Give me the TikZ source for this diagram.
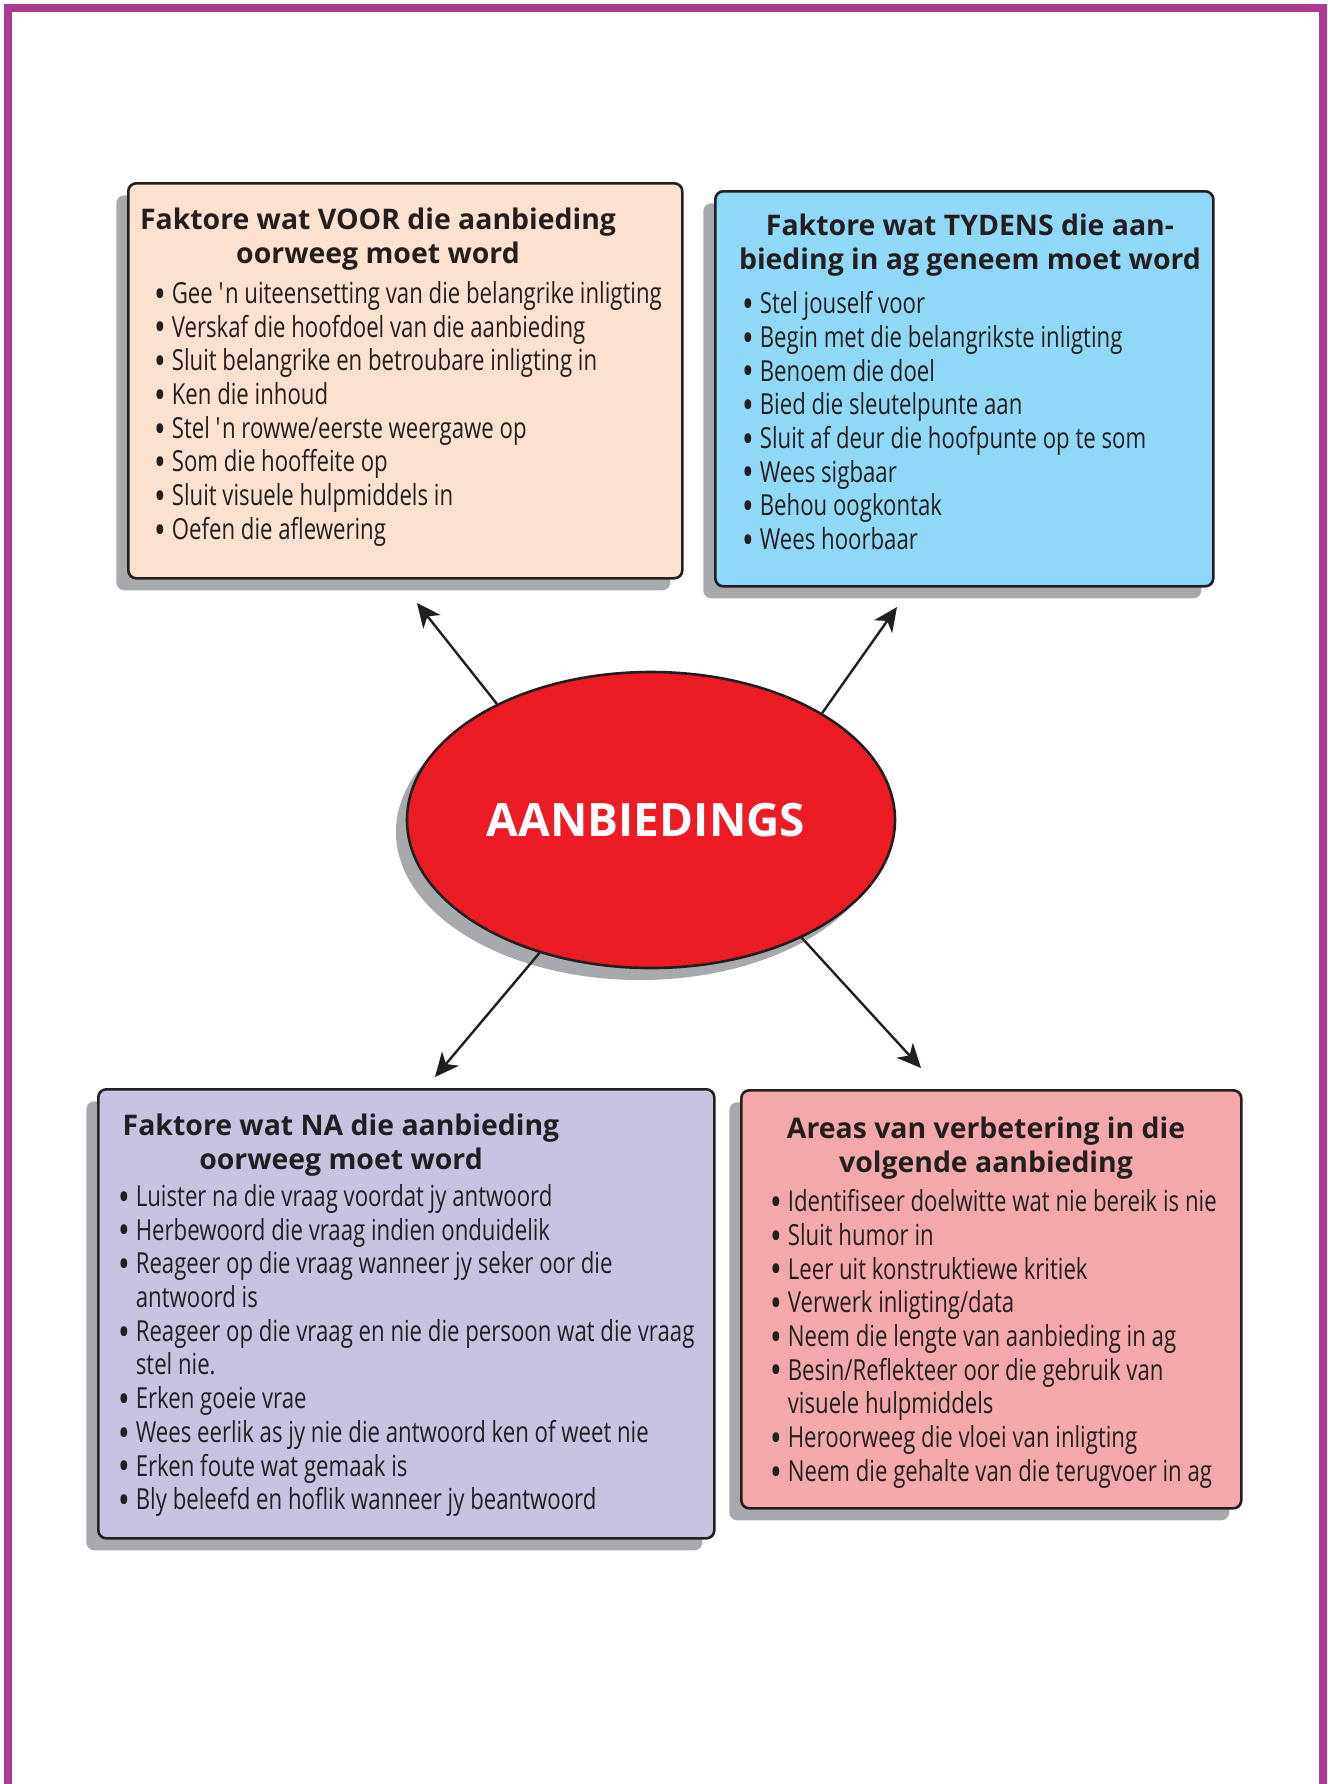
\documentclass[tikz,border=0pt]{standalone}
\usepackage{fontspec}
\setmainfont{Open Sans}
\newfontfamily\listfont{Open Sans}[FakeStretch=0.765]
\usepackage{tikz}
\usetikzlibrary{positioning}
\usetikzlibrary{arrows.meta}
\usetikzlibrary{shapes.geometric}
\usetikzlibrary{shadows}

\definecolor{frame}{RGB}{170,59,143}
\definecolor{ink}{RGB}{35,31,32}
\definecolor{shade}{RGB}{167,169,172}
\definecolor{peach}{RGB}{252,224,208}
\definecolor{sky}{RGB}{143,216,247}
\definecolor{lilac}{RGB}{198,195,225}
\definecolor{rose}{RGB}{245,168,171}
\definecolor{red}{RGB}{236,28,36}

\newcommand\punt{\raisebox{-2.4pt}{\scalebox{1.4}{\textbullet}}~}
\newcommand\verder{\phantom{\punt}}

\begin{document}
\begin{tikzpicture}[x=0.5pt,y=-0.5pt,
    box/.style={
      % The shape:
      rectangle,rounded corners=4pt,anchor=north west,inner sep=0pt,
      % Border
      line width=1.3pt,draw=ink,
      drop shadow={shadow xshift=-6pt,shadow yshift=-6pt,fill=shade,opacity=1}
      },
    heading/.style={font=\bfseries\fontsize{14.2}{17}\selectfont,
      align=center,anchor=north,inner sep=0pt,text=ink},
    items/.style={font=\listfont\fontsize{14.5}{16.85}\selectfont,
      align=left,anchor=north west,inner sep=0pt,text=ink},
    pijl/.style={line width=1.2pt,draw=ink,
      -{Stealth[length=12pt,width=11pt,inset=3.5pt]}}]
  \useasboundingbox (0,0) rectangle (1328,1784);
  \draw [frame,line width=4pt] (8,1784) -- (8,7.5) -- (1323,7.5) -- (1323,1784);

  \node (voor) [box,fill=peach,minimum width=277pt,minimum height=197.5pt] at (127,182) {};
  \node (tydens) [box,fill=sky,minimum width=249pt,minimum height=197.5pt] at (714,190) {};
  \node (na) [box,fill=lilac,minimum width=308pt,minimum height=224.5pt] at (97,1088) {};
  \node (verbeter) [box,fill=rose,minimum width=250pt,minimum height=209pt] at (740,1089) {};

  \node (voor-kop) [heading] at (378,208) {Faktore wat VOOR die aanbieding\\oorweeg moet word};
  \node (voor-lys) [items] at (154,281) {\punt Gee \textquotesingle n uiteensetting van die belangrike inligting\\
    \punt Verskaf die hoofdoel van die aanbieding\\
    \punt Sluit belangrike en betroubare inligting in\\
    \punt Ken die inhoud\\
    \punt Stel \textquotesingle n rowwe/eerste weergawe op\\
    \punt Som die hooffeite op\\
    \punt Sluit visuele hulpmiddels in\\
    \punt Oefen die aflewering};

  \node (tydens-kop) [heading] at (970,214) {Faktore wat TYDENS die aan-\\bieding in ag geneem moet word};
  \node (tydens-lys) [items] at (742,291) {\punt Stel jouself voor\\
    \punt Begin met die belangrikste inligting\\
    \punt Benoem die doel\\
    \punt Bied die sleutelpunte aan\\
    \punt Sluit af deur die hoofpunte op te som\\
    \punt Wees sigbaar\\
    \punt Behou oogkontak\\
    \punt Wees hoorbaar};

  \node (na-kop) [heading] at (341,1114) {Faktore wat NA die aanbieding\\oorweeg moet word};
  \node (na-lys) [items] at (118,1184) {\punt Luister na die vraag voordat jy antwoord\\
    \punt Herbewoord die vraag indien onduidelik\\
    \punt Reageer op die vraag wanneer jy seker oor die\\
    \verder antwoord is\\
    \punt Reageer op die vraag en nie die persoon wat die vraag\\
    \verder stel nie.\\
    \punt Erken goeie vrae\\
    \punt Wees eerlik as jy nie die antwoord ken of weet nie\\
    \punt Erken foute wat gemaak is\\
    \punt Bly beleefd en hoflik wanneer jy beantwoord};

  \node (verbeter-kop) [heading] at (986,1117) {Areas van verbetering in die\\volgende aanbieding};
  \node (verbeter-lys) [items] at (770,1189) {\punt Identifiseer doelwitte wat nie bereik is nie\\
    \punt Sluit humor in\\
    \punt Leer uit konstruktiewe kritiek\\
    \punt Verwerk inligting/data\\
    \punt Neem die lengte van aanbieding in ag\\
    \punt Besin/Reflekteer oor die gebruik van\\
    \verder visuele hulpmiddels\\
    \punt Heroorweeg die vloei van inligting\\
    \punt Neem die gehalte van die terugvoer in ag};

  \node (aanbieding) [ellipse,draw=ink,fill=red,line width=1.3pt,inner sep=0pt,
    minimum width=244pt,minimum height=148pt,text=white,
    font=\bfseries\fontsize{23}{28}\selectfont,
    drop shadow={shadow xshift=-5.5pt,shadow yshift=-6pt,fill=shade,opacity=1}]
    at (651,820) {\hspace*{-5pt}AANBIEDINGS};

  \coordinate (voor-punt) at (417,603);
  \coordinate (tydens-punt) at (897,607);
  \coordinate (na-punt) at (435,1077);
  \coordinate (verbeter-punt) at (921,1068);
  \draw [pijl] (aanbieding.143) -- (voor-punt);
  \draw [pijl] (aanbieding.32) -- (tydens-punt);
  \draw [pijl] (aanbieding.230) -- (na-punt);
  \draw [pijl] (aanbieding.322) -- (verbeter-punt);
\end{tikzpicture}
\end{document}
